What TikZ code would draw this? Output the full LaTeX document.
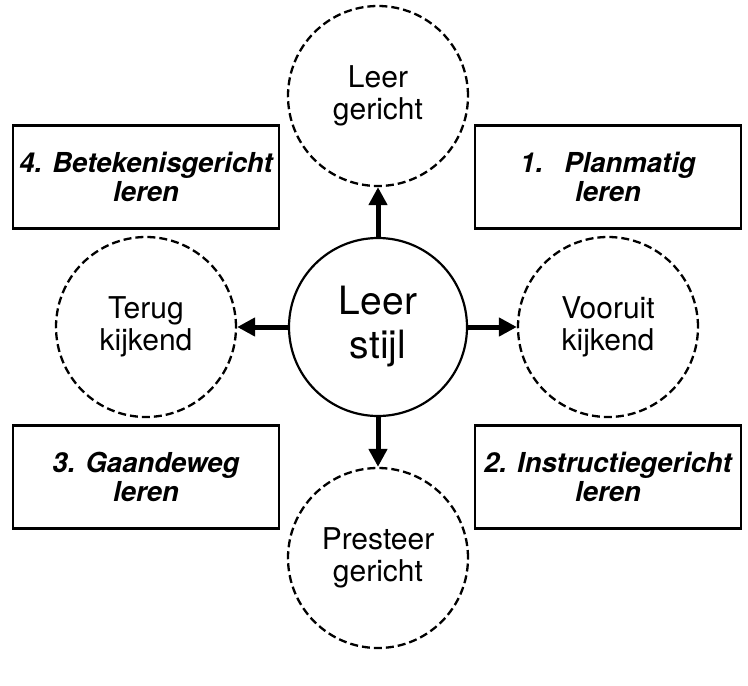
\documentclass[tikz,border=0pt]{standalone}
\usepackage{fontspec}
\setmainfont{TeX Gyre Heros}
\usetikzlibrary{arrows.meta}

\begin{document}
\begin{tikzpicture}[x=1pt,y=-1pt,
  rondje/.style={circle,draw,line width=2.3pt,dash pattern=on 8pt off 4pt,minimum size=180pt,inner sep=0pt,align=center,font=\fontsize{30}{32}\selectfont},
  kern/.style={circle,draw,line width=2.2pt,minimum size=178pt,inner sep=0pt,align=center,font=\fontsize{39}{44}\selectfont},
  blok/.style={draw,line width=2.5pt,minimum width=266pt,minimum height=103pt,inner sep=0pt,align=center,font=\fontsize{27.5}{29}\bfseries\itshape\selectfont},
  pijl/.style={line width=5pt,-{Triangle[length=18pt,width=18pt]}}]
\useasboundingbox (0,0) rectangle (748,686);
\node[kern] (stijl) at (378,327) {Leer\\stijl};
\node[rondje] (leer) at (378,96) {Leer\\gericht};
\node[rondje] (presteer) at (378,558) {Presteer\\gericht};
\node[rondje] (terug) at (146,327) {Terug\\kijkend};
\node[rondje] (vooruit) at (608,327) {Vooruit\\kijkend};
\node[blok] (plan) at (608,177) {1.\hspace{0.4em} Planmatig\\leren};
\node[blok] (instr) at (608,477) {2. Instructiegericht\\leren};
\node[blok] (gaand) at (146,477) {3. Gaandeweg\\leren};
\node[blok] (betek) at (146,177) {4. Betekenisgericht\\leren};
\foreach \d in {leer,vooruit,presteer,terug}
  \draw[pijl] (stijl) -- (\d);
\end{tikzpicture}
\end{document}
